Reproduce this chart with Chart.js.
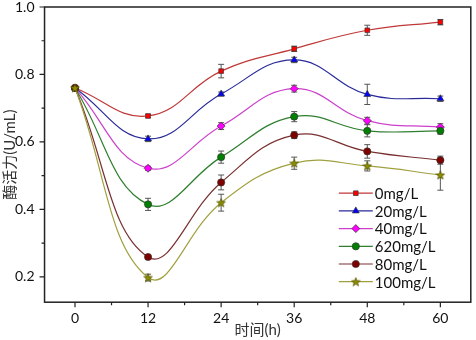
<!DOCTYPE html>
<html>
<head>
<meta charset="utf-8">
<script src="https://cdn.jsdelivr.net/npm/chart.js@4.4.0/dist/chart.umd.min.js"></script>
<style>
  html, body { margin: 0; padding: 0; background: #fff; }
</style>
</head>
<body>
<canvas id="myChart" width="476" height="340"></canvas>
<script>
var hours = [0, 12, 24, 36, 48, 60];
var xTicks = [0, 12, 24, 36, 48, 60];
var yTicks = [0.2, 0.4, 0.6, 0.8, 1.0];
var names = ['0mg/L', '20mg/L', '40mg/L', '620mg/L', '80mg/L', '100mg/L'];

var act0   = [0.760, 0.677, 0.810, 0.876, 0.931, 0.955];
var act20  = [0.760, 0.609, 0.742, 0.843, 0.741, 0.728];
var act40  = [0.760, 0.522, 0.647, 0.758, 0.663, 0.644];
var act620 = [0.760, 0.415, 0.555, 0.675, 0.633, 0.633];
var act80  = [0.760, 0.259, 0.480, 0.620, 0.572, 0.546];
var act100 = [0.760, 0.198, 0.420, 0.537, 0.529, 0.502];

var err0   = [0.005, 0.005, 0.020, 0.008, 0.015, 0.008];
var err20  = [0.005, 0.008, 0.006, 0.008, 0.030, 0.008];
var err40  = [0.005, 0.006, 0.010, 0.010, 0.010, 0.010];
var err620 = [0.005, 0.018, 0.018, 0.015, 0.018, 0.010];
var err80  = [0.005, 0.006, 0.022, 0.010, 0.020, 0.012];
var err100 = [0.005, 0.010, 0.025, 0.018, 0.015, 0.045];

// filled star marker (chart.js 'star' is only an asterisk)
function makeStar(fill, edge) {
  var c = document.createElement('canvas');
  c.width = 10; c.height = 10;
  var g = c.getContext('2d');
  g.beginPath();
  for (var i = 0; i < 10; i++) {
    var r = i % 2 ? 1.9 : 4.6;
    var a = -Math.PI / 2 + i * Math.PI / 5;
    var px = 5 + r * Math.cos(a), py = 5.4 + r * Math.sin(a);
    if (i === 0) g.moveTo(px, py); else g.lineTo(px, py);
  }
  g.closePath();
  g.fillStyle = fill; g.fill();
  g.lineWidth = 0.7; g.strokeStyle = edge; g.stroke();
  return c;
}
var starImg = makeStar('#8c8c00', '#555500');

function series(idx, vals, errs, line, mark, style, r) {
  return {
    label: names[idx],
    data: hours.map(function (h, i) { return { x: h, y: vals[i] }; }),
    errors: errs,
    order: names.length - idx, // later series drawn on top
    borderColor: line,
    backgroundColor: mark,
    pointBackgroundColor: mark,
    pointBorderColor: '#333',
    pointBorderWidth: 0.7,
    pointStyle: style,
    pointRadius: r,
    borderWidth: 1.2,
    tension: 0.42
  };
}

var errorBars = {
  id: 'errorBars',
  beforeDatasetsDraw: function (chart) {
    var ctx = chart.ctx, ys = chart.scales.y;
    ctx.save();
    ctx.strokeStyle = '#555';
    ctx.lineWidth = 1;
    chart.data.datasets.forEach(function (ds, di) {
      var meta = chart.getDatasetMeta(di);
      meta.data.forEach(function (pt, i) {
        var e = ds.errors[i];
        var v = ds.data[i].y;
        var top = ys.getPixelForValue(v + e), bot = ys.getPixelForValue(v - e);
        ctx.beginPath();
        ctx.moveTo(pt.x, top); ctx.lineTo(pt.x, bot);
        ctx.moveTo(pt.x - 3, top); ctx.lineTo(pt.x + 3, top);
        ctx.moveTo(pt.x - 3, bot); ctx.lineTo(pt.x + 3, bot);
        ctx.stroke();
      });
    });
    ctx.restore();
  }
};

var frame = {
  id: 'frame',
  afterDraw: function (chart) {
    var ctx = chart.ctx, a = chart.chartArea;
    var xs = chart.scales.x, ys = chart.scales.y;
    ctx.save();
    ctx.strokeStyle = '#222';
    ctx.lineWidth = 1.5;
    ctx.strokeRect(a.left, a.top, a.right - a.left, a.bottom - a.top);
    ctx.lineWidth = 1.2;
    ctx.beginPath();
    for (var t = -6; t <= 66; t += 6) {
      if (t < xs.min || t > xs.max) continue;
      var px = xs.getPixelForValue(t);
      var len = (t % 12 === 0) ? 5 : 3;
      ctx.moveTo(px, a.bottom); ctx.lineTo(px, a.bottom + len);
    }
    for (var k = 2; k <= 10; k++) {
      var py = ys.getPixelForValue(k / 10);
      var l2 = (k % 2 === 0) ? 5 : 3;
      ctx.moveTo(a.left, py); ctx.lineTo(a.left - l2, py);
    }
    ctx.stroke();

    // legend: line + marker + text
    var lx = a.right - 132, ly = a.bottom - 109, step = 17.7;
    ctx.font = '15px Lato, "Noto Sans CJK SC"';
    ctx.textBaseline = 'middle';
    chart.data.datasets.forEach(function (ds, i) {
      var y = ly + i * step;
      ctx.strokeStyle = ds.borderColor;
      ctx.lineWidth = 1.2;
      ctx.beginPath();
      ctx.moveTo(lx, y); ctx.lineTo(lx + 34, y);
      ctx.stroke();
      ctx.fillStyle = ds.pointBackgroundColor;
      ctx.strokeStyle = '#333';
      ctx.lineWidth = 0.7;
      Chart.helpers.drawPoint(ctx, {
        pointStyle: ds.pointStyle, radius: ds.pointRadius, rotation: 0, borderWidth: 0.7
      }, lx + 17, y);
      ctx.fillStyle = '#111';
      ctx.fillText(ds.label, lx + 36, y + 1);
    });
    ctx.restore();
  }
};

var ctx = document.getElementById('myChart').getContext('2d');
var myChart = new Chart(ctx, {
  type: 'line',
  data: {
    datasets: [
      series(0, act0, err0, '#c03838', '#ff0000', 'rect', 3.3),
      series(1, act20, err20, '#2a2a9a', '#0000ff', 'triangle', 4),
      series(2, act40, err40, '#cc40cc', '#ff00ff', 'rectRot', 4),
      series(3, act620, err620, '#2f7f2f', '#008000', 'circle', 3.6),
      series(4, act80, err80, '#7a3030', '#800000', 'circle', 3.6),
      series(5, act100, err100, '#a0a040', '#8c8c00', starImg, 4.5)
    ]
  },
  options: {
    responsive: false,
    animation: false,
    layout: { padding: { top: 0, right: 1, left: 0, bottom: 0 } },
    plugins: {
      legend: { display: false },
      tooltip: { enabled: false }
    },
    scales: {
      x: {
        type: 'linear',
        min: -5,
        max: 65,
        afterBuildTicks: function (s) { s.ticks = xTicks.map(function (v) { return { value: v }; }); },
        grid: { display: false, drawTicks: true, tickLength: 8 },
        border: { display: false },
        ticks: { padding: 0, color: '#111', font: { family: 'Lato', size: 14 } },
        title: {
          display: true,
          text: '时间(h)',
          color: '#333',
          padding: { top: -6, bottom: 1 },
          font: { family: 'Lato, "Noto Sans CJK SC"', size: 15 }
        }
      },
      y: {
        min: 0.125,
        max: 1.0,
        afterBuildTicks: function (s) { s.ticks = yTicks.map(function (v) { return { value: v }; }); },
        grid: { display: false, drawTicks: true, tickLength: 10 },
        border: { display: false },
        ticks: {
          padding: 0, color: '#111', font: { family: 'Lato', size: 14, lineHeight: 1 },
          callback: function (v) { return v.toFixed(1); }
        },
        title: {
          display: true,
          text: '酶活力(U/mL)',
          color: '#333',
          padding: { top: 1, bottom: -4 },
          font: { family: 'Lato, "Noto Sans CJK SC"', size: 15 }
        }
      }
    }
  },
  plugins: [errorBars, frame]
});
</script>
</body>
</html>
